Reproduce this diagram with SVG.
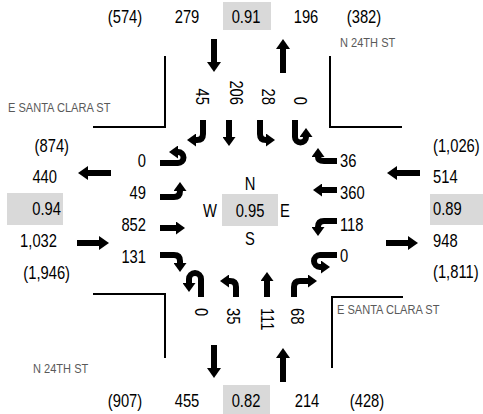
<svg xmlns="http://www.w3.org/2000/svg" width="483" height="414" viewBox="0 0 483 414">
<style>
text{font-family:"Liberation Sans",Arial,sans-serif;font-size:18px;fill:#000}
.st{font-size:13.5px;fill:#595959}
.m{text-anchor:middle}
.e{text-anchor:end}
.box{fill:#d9d9d9}
.ln{fill:none;stroke:#000;stroke-width:2}
.a{fill:none;stroke:#000;stroke-width:6}
.s{marker-end:url(#hs)}
.b{marker-end:url(#hb)}
</style>
<defs>
<marker id="hs" markerUnits="userSpaceOnUse" markerWidth="9" markerHeight="13" viewBox="0 0 9 13" refX="0" refY="6.5" orient="auto"><path d="M0,0 L9,6.5 L0,13 z" fill="#000"/></marker>
<marker id="hb" markerUnits="userSpaceOnUse" markerWidth="10" markerHeight="14" viewBox="0 0 10 14" refX="0" refY="7" orient="auto"><path d="M0,0 L10,7 L0,14 z" fill="#000"/></marker>
</defs>

<g id="streets">
<path class="ln" d="M165,56 V127 H93"/>
<path class="ln" d="M330,56 V127 H402"/>
<path class="ln" d="M93,294 H165 V358"/>
<path class="ln" d="M403,297 H332 V368"/>
<text class="st" transform="translate(8,112) scale(.82,1)">E SANTA CLARA ST</text>
<text class="st" transform="translate(340,47) scale(.82,1)">N 24TH ST</text>
<text class="st" transform="translate(33,373) scale(.82,1)">N 24TH ST</text>
<text class="st" transform="translate(337,314) scale(.82,1)">E SANTA CLARA ST</text>
</g>

<g id="north">
<rect class="box" x="223" y="2" width="48" height="28"/>
<text class="m" transform="translate(125,22.5) scale(.82,1)">(574)</text>
<text class="m" transform="translate(187,22.5) scale(.82,1)">279</text>
<text class="m" transform="translate(246,22.5) scale(.82,1)">0.91</text>
<text class="m" transform="translate(306,22.5) scale(.82,1)">196</text>
<text class="m" transform="translate(364,22.5) scale(.82,1)">(382)</text>
<text class="e" transform="translate(195.5,105) rotate(90) scale(.82,1)">45</text>
<text class="e" transform="translate(229.5,105) rotate(90) scale(.82,1)">206</text>
<text class="e" transform="translate(261.5,105) rotate(90) scale(.82,1)">28</text>
<text class="e" transform="translate(293.5,105) rotate(90) scale(.82,1)">0</text>
</g>

<g id="south">
<rect class="box" x="223" y="385" width="47" height="29"/>
<text class="m" transform="translate(125,406.5) scale(.82,1)">(907)</text>
<text class="m" transform="translate(187,406.5) scale(.82,1)">455</text>
<text class="m" transform="translate(246,406.5) scale(.82,1)">0.82</text>
<text class="m" transform="translate(307,406.5) scale(.82,1)">214</text>
<text class="m" transform="translate(367,406.5) scale(.82,1)">(428)</text>
<text transform="translate(194.5,308) rotate(90) scale(.82,1)">0</text>
<text transform="translate(226.5,308) rotate(90) scale(.82,1)">35</text>
<text transform="translate(260.5,308) rotate(90) scale(.82,1)">111</text>
<text transform="translate(290.5,308) rotate(90) scale(.82,1)">68</text>
</g>

<g id="west">
<rect class="box" x="7" y="193" width="56" height="32"/>
<text class="e" transform="translate(69,152) scale(.82,1)">(874)</text>
<text class="e" transform="translate(57,182.5) scale(.82,1)">440</text>
<text class="e" transform="translate(61,214.5) scale(.82,1)">0.94</text>
<text class="e" transform="translate(57,246.5) scale(.82,1)">1,032</text>
<text class="e" transform="translate(70,278.5) scale(.82,1)">(1,946)</text>
<text class="e" transform="translate(146,166.5) scale(.82,1)">0</text>
<text class="e" transform="translate(146,198.5) scale(.82,1)">49</text>
<text class="e" transform="translate(146,230.5) scale(.82,1)">852</text>
<text class="e" transform="translate(146,262.5) scale(.82,1)">131</text>
</g>

<g id="east">
<rect class="box" x="430" y="194" width="53" height="31"/>
<text transform="translate(433,152) scale(.82,1)">(1,026)</text>
<text transform="translate(433,182.5) scale(.82,1)">514</text>
<text transform="translate(433,214.5) scale(.82,1)">0.89</text>
<text transform="translate(433,246.5) scale(.82,1)">948</text>
<text transform="translate(433,277.5) scale(.82,1)">(1,811)</text>
<text transform="translate(340,166.5) scale(.82,1)">36</text>
<text transform="translate(340,198.5) scale(.82,1)">360</text>
<text transform="translate(340,230.5) scale(.82,1)">118</text>
<text transform="translate(340,261.5) scale(.82,1)">0</text>
</g>

<g id="center">
<rect class="box" x="222" y="194" width="56" height="32"/>
<text class="m" transform="translate(250,189.5) scale(.82,1)">N</text>
<text class="m" transform="translate(250,216.5) scale(.82,1)">0.95</text>
<text class="m" transform="translate(210,216.5) scale(.82,1)">W</text>
<text class="m" transform="translate(285,216.5) scale(.82,1)">E</text>
<text class="m" transform="translate(250,244.5) scale(.82,1)">S</text>
</g>

<g id="connectors">
<path class="a b" d="M214,39 V62"/>
<path class="a b" d="M283,73 V49"/>
<path class="a b" d="M214,345 V368"/>
<path class="a b" d="M283,382 V358"/>
<path class="a b" d="M111,173 H88"/>
<path class="a b" d="M77,243 H99"/>
<path class="a b" d="M420,173 H397"/>
<path class="a b" d="M386,243 H408"/>

<path class="a s" d="M203,120 V134 Q203,140 197,140 H196"/>
<path class="a s" d="M229,120 V137"/>
<path class="a s" d="M260,120 V134 Q260,140 266,140"/>
<path class="a s" d="M295,120 V137 A5.5,5.5 0 0 0 306,137"/>

<path class="a s" d="M201,297 V279 A6,6 0 0 0 189,279 V283"/>
<path class="a s" d="M236,297 V287 Q236,281 230,281 H229"/>
<path class="a s" d="M267,297 V281"/>
<path class="a s" d="M294,297 V287 Q294,281 300,281 H308"/>

<path class="a s" d="M160,163 H178 A5.5,5.5 0 0 0 178,152"/>
<path class="a s" d="M160,197 H174 Q180,197 180,191"/>
<path class="a s" d="M160,228 H176"/>
<path class="a s" d="M160,255 H174 Q180,255 180,261 V263"/>

<path class="a s" d="M337,161 H324 Q318,161 318,157"/>
<path class="a s" d="M337,190 H322"/>
<path class="a s" d="M337,221 H324 Q318,221 318,227"/>
<path class="a s" d="M337,255 H320 A6,6 0 0 0 320,267 H321"/>
</g>
</svg>
